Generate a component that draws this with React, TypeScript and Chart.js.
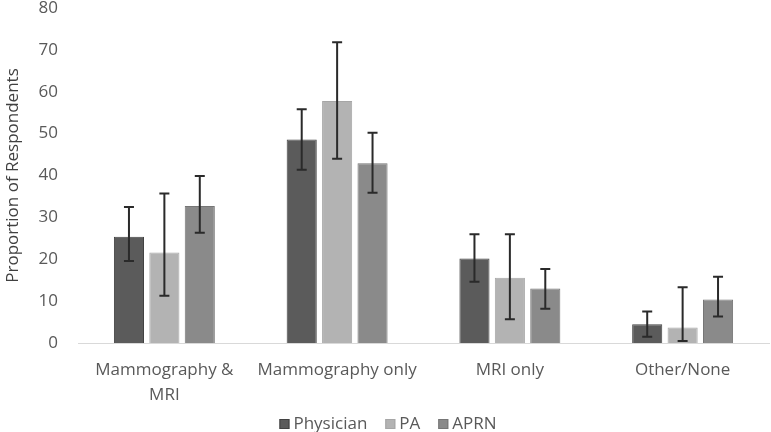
import React, { useEffect, useRef } from "react";
import { Chart, registerables } from "chart.js";

Chart.register(...registerables);

const categories: (string | string[])[] = [["Mammography &", "MRI"], "Mammography only", "MRI only", "Other/None"];
const seriesNames = ["Physician", "PA", "APRN"];
const physician = [25.4, 48.6, 20.2, 4.5];
const physicianLow = [19.6, 41.4, 14.6, 1.5];
const physicianHigh = [32.5, 55.8, 26.0, 7.5];
const pa = [21.6, 57.8, 15.6, 3.7];
const paLow = [11.3, 44.0, 5.7, 0.5];
const paHigh = [35.7, 71.8, 26.0, 13.3];
const aprn = [32.7, 42.9, 13.0, 10.4];
const aprnLow = [26.3, 35.9, 8.2, 6.3];
const aprnHigh = [39.9, 50.2, 17.7, 15.8];
const yTicks = [0, 10, 20, 30, 40, 50, 60, 70, 80];

const FONT = "'Open Sans', 'Noto Sans', sans-serif";
const fills = ["#5b5b5b", "#b3b3b3", "#8a8a8a"];
const borders = ["#424242", "#a6a6a6", "#767676"];

const lows = [physicianLow, paLow, aprnLow];
const highs = [physicianHigh, paHigh, aprnHigh];

const errorBarPlugin = {
  id: "errorBars",
  afterDatasetsDraw(chart: any) {
    const ctx = chart.ctx;
    const y = chart.scales.y;
    ctx.save();
    ctx.strokeStyle = "#2a2a2a";
    ctx.lineWidth = 2;
    chart.data.datasets.forEach((_: any, i: number) => {
      const meta = chart.getDatasetMeta(i);
      meta.data.forEach((el: any, j: number) => {
        const x = el.x;
        const yl = y.getPixelForValue(lows[i][j]);
        const yh = y.getPixelForValue(highs[i][j]);
        ctx.beginPath();
        ctx.moveTo(x, yl);
        ctx.lineTo(x, yh);
        ctx.moveTo(x - 5, yl);
        ctx.lineTo(x + 5, yl);
        ctx.moveTo(x - 5, yh);
        ctx.lineTo(x + 5, yh);
        ctx.stroke();
      });
    });
    ctx.restore();
  },
};

const legendPlugin = {
  id: "customLegend",
  afterDraw(chart: any) {
    const ctx = chart.ctx;
    ctx.save();
    ctx.font = `17px ${FONT}`;
    ctx.textBaseline = "middle";
    const box = 10;
    const gapBoxText = 4;
    const gapItems = 18;
    const widths = chart.data.datasets.map((d: any) => box + gapBoxText + ctx.measureText(d.label).width);
    const total = widths.reduce((a: number, b: number) => a + b, 0) + gapItems * (widths.length - 1);
    let x = 388 - total / 2;
    const cy = 424;
    chart.data.datasets.forEach((d: any, i: number) => {
      ctx.fillStyle = d.backgroundColor;
      ctx.fillRect(x, cy - box / 2, box, box);
      ctx.strokeStyle = d.borderColor;
      ctx.lineWidth = 1;
      ctx.strokeRect(x + 0.5, cy - box / 2 + 0.5, box - 1, box - 1);
      ctx.fillStyle = "#595959";
      ctx.fillText(d.label, x + box + gapBoxText, cy);
      x += widths[i] + gapItems;
    });
    ctx.restore();
  },
};

export default function App() {
  const ref = useRef<HTMLCanvasElement | null>(null);
  useEffect(() => {
    if (!ref.current) return;
    const chart = new Chart(ref.current, {
      type: "bar",
      data: {
        labels: categories,
        datasets: seriesNames.map((name, i) => ({
          label: name,
          data: [physician, pa, aprn][i],
          backgroundColor: fills[i],
          borderColor: borders[i],
          borderWidth: 1,
        })),
      },
      options: {
        animation: false,
        responsive: true,
        maintainAspectRatio: false,
        layout: { padding: { left: 0, right: 2, top: 8, bottom: 0 } },
        datasets: { bar: { barPercentage: 0.85, categoryPercentage: 0.615 } },
        plugins: {
          legend: { display: false },
          tooltip: { enabled: false },
        },
        scales: {
          x: {
            grid: { display: false, drawTicks: false },
            border: { display: true, color: "#d9d9d9", width: 1 },
            ticks: {
              font: { family: FONT, size: 17, lineHeight: 1.45 },
              color: "#595959",
              padding: 15,
              maxRotation: 0,
              autoSkip: false,
            },
            afterFit(scale: any) {
              scale.height = 432 - 343;
            },
          },
          y: {
            min: 0,
            max: 80,
            afterBuildTicks(scale: any) {
              scale.ticks = yTicks.map((v) => ({ value: v }));
            },
            grid: { display: false, drawTicks: false },
            border: { display: false },
            ticks: { font: { family: FONT, size: 17 }, color: "#595959", padding: 20 },
            title: {
              display: true,
              text: "Proportion of Respondents",
              font: { family: FONT, size: 17 },
              color: "#404040",
              padding: { top: 3, bottom: 0 },
            },
            afterFit(scale: any) {
              scale.width = 78;
              scale.paddingTop = 0;
              scale.paddingBottom = 0;
            },
          },
        },
      },
      plugins: [errorBarPlugin, legendPlugin],
    });
    return () => chart.destroy();
  }, []);
  return (
    <div style={{ position: "fixed", left: 0, top: 0, width: 771, height: 432, background: "#fff" }}>
      <canvas ref={ref} />
    </div>
  );
}
